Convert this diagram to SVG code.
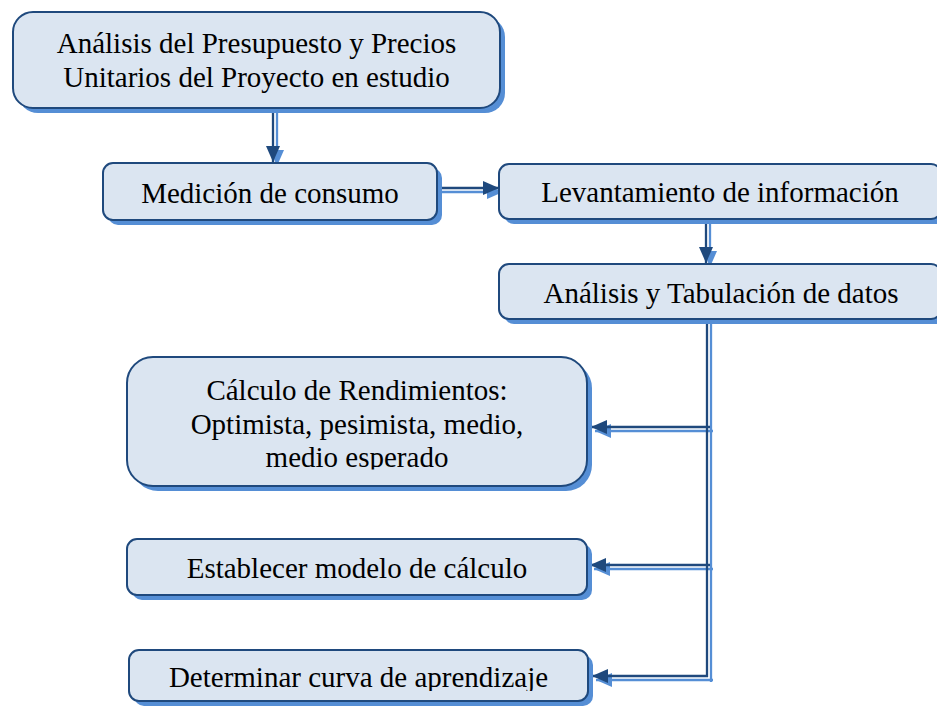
<svg xmlns="http://www.w3.org/2000/svg" width="937" height="706" viewBox="0 0 937 706">
  <style>
    .sh { fill: #558ed5; }
    .box { fill: #dbe5f1; stroke: #1f497d; stroke-width: 2; }
    .t { font-family: "Liberation Serif", "Times New Roman", serif; font-size: 29px; fill: #000; text-anchor: middle; }
    .cd { fill: none; stroke: #1f497d; stroke-width: 2.3; marker-end: url(#ad); }
    .cl { fill: none; stroke: #558ed5; stroke-width: 2.3; marker-end: url(#al); }
  </style>
  <defs>
    <marker id="ad" markerUnits="userSpaceOnUse" markerWidth="17" markerHeight="15" refX="16" refY="7" orient="auto">
      <path d="M0,0 L16,7 L0,14 Z" fill="#1f497d"/>
    </marker>
    <marker id="al" markerUnits="userSpaceOnUse" markerWidth="17" markerHeight="15" refX="16" refY="7" orient="auto">
      <path d="M0,0 L16,7 L0,14 Z" fill="#558ed5"/>
    </marker>
    <clipPath id="c5"><rect x="0" y="0" width="937" height="469.5"/></clipPath>
    <clipPath id="c7"><rect x="0" y="0" width="937" height="691"/></clipPath>
  </defs>

  <rect width="937" height="706" fill="#ffffff"/>

  <g id="connectors">
    <g transform="translate(4,4)">
      <path class="cl" d="M273,108 V162"/>
      <path class="cl" d="M437,188 H499"/>
      <path class="cl" d="M706,219 V263"/>
      <path fill="none" stroke="#558ed5" stroke-width="2.3" d="M707,319 V678"/>
      <path class="cl" d="M709,427 H591"/>
      <path class="cl" d="M709,565 H590"/>
      <path class="cl" d="M709,676 H592"/>
    </g>
    <path class="cd" d="M273,108 V162"/>
    <path class="cd" d="M437,188 H499"/>
    <path class="cd" d="M706,219 V263"/>
    <path fill="none" stroke="#1f497d" stroke-width="2.3" d="M707,319 V677"/>
    <path class="cd" d="M710,427 H591"/>
    <path class="cd" d="M710,565 H590"/>
    <path class="cd" d="M708,676 H592"/>
  </g>

  <g id="n1">
    <rect class="sh" x="18" y="17" width="487" height="96" rx="20"/>
    <rect class="box" x="13" y="12" width="487" height="96" rx="20"/>
    <text class="t" x="256.5" y="53">Análisis del Presupuesto y Precios</text>
    <text class="t" x="256.5" y="87">Unitarios del Proyecto en estudio</text>
  </g>

  <g id="n2">
    <rect class="sh" x="108" y="168" width="334" height="57" rx="10"/>
    <rect class="box" x="103" y="163" width="334" height="57" rx="10"/>
    <text class="t" x="270" y="203">Medición de consumo</text>
  </g>

  <g id="n3">
    <rect class="sh" x="504" y="169" width="442" height="55" rx="10"/>
    <rect class="box" x="499" y="164" width="442" height="55" rx="10"/>
    <text class="t" x="720" y="202">Levantamiento de información</text>
  </g>

  <g id="n4">
    <rect class="sh" x="504" y="269" width="442" height="55" rx="10"/>
    <rect class="box" x="499" y="264" width="442" height="55" rx="10"/>
    <text class="t" x="721" y="303">Análisis y Tabulación de datos</text>
  </g>

  <g id="n5">
    <rect class="sh" x="132" y="362" width="460" height="129" rx="26"/>
    <rect class="box" x="127" y="357" width="460" height="129" rx="26"/>
    <g clip-path="url(#c5)">
      <text class="t" x="357" y="400">Cálculo de Rendimientos:</text>
      <text class="t" x="357" y="434">Optimista, pesimista, medio,</text>
      <text class="t" x="357" y="467">medio esperado</text>
    </g>
  </g>

  <g id="n6">
    <rect class="sh" x="132" y="544" width="460" height="56" rx="10"/>
    <rect class="box" x="127" y="539" width="460" height="56" rx="10"/>
    <text class="t" x="357" y="578">Establecer modelo de cálculo</text>
  </g>

  <g id="n7">
    <rect class="sh" x="134" y="655" width="459" height="51" rx="10"/>
    <rect class="box" x="129" y="650" width="459" height="51" rx="10"/>
    <g clip-path="url(#c7)">
      <text class="t" x="358.5" y="687">Determinar curva de aprendizaje</text>
    </g>
  </g>
</svg>
